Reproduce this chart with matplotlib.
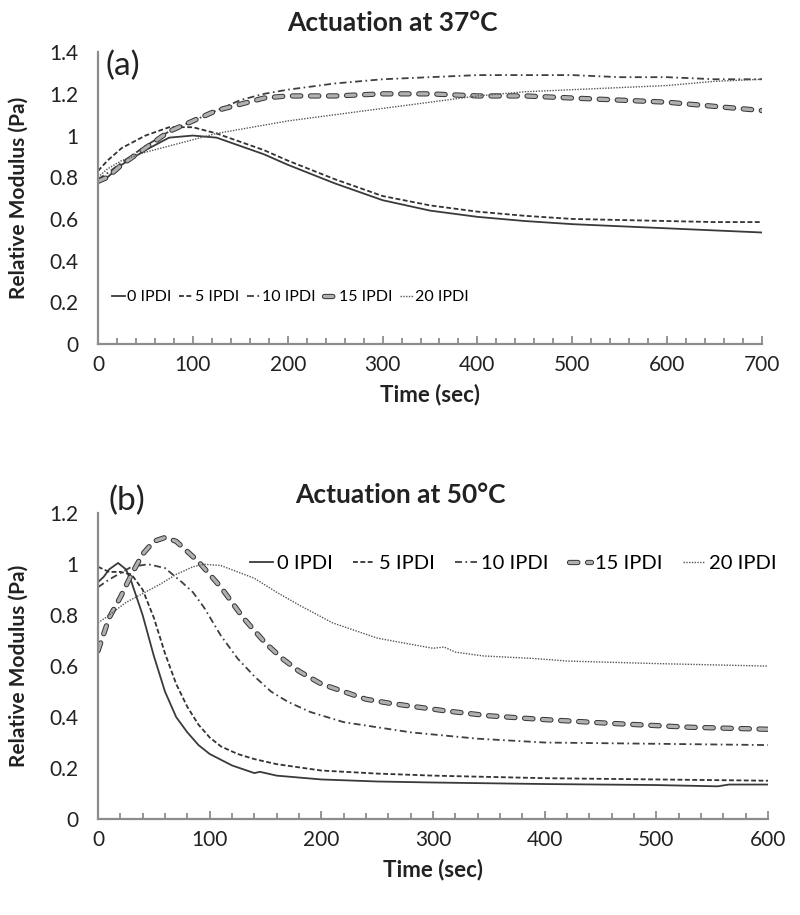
import matplotlib
matplotlib.use('Agg')
import matplotlib.pyplot as plt
import matplotlib.patheffects as pe
from matplotlib.ticker import MultipleLocator, FuncFormatter

plt.rcParams['font.family'] = ['Lato', 'DejaVu Sans']
plt.rcParams['lines.scale_dashes'] = False

labels = ['0 IPDI', '5 IPDI', '10 IPDI', '15 IPDI', '20 IPDI']

# (a) actuation at 37 C
t37 = [0, 10, 25, 50, 75, 100, 125, 150, 175, 200, 250, 300, 350, 400, 450, 500, 550, 600, 650, 700]
ipdi0_37 = [0.78, 0.80, 0.86, 0.93, 0.99, 1.00, 0.99, 0.95, 0.91, 0.86, 0.77, 0.69, 0.64, 0.61, 0.59, 0.575, 0.565, 0.555, 0.545, 0.535]
ipdi5_37 = [0.83, 0.88, 0.94, 1.00, 1.04, 1.04, 1.01, 0.97, 0.93, 0.88, 0.79, 0.71, 0.665, 0.635, 0.615, 0.60, 0.595, 0.59, 0.585, 0.585]
ipdi10_37 = [0.79, 0.82, 0.87, 0.95, 1.02, 1.07, 1.12, 1.17, 1.20, 1.22, 1.25, 1.27, 1.28, 1.29, 1.29, 1.29, 1.28, 1.28, 1.27, 1.27]
ipdi15_37 = [0.78, 0.80, 0.86, 0.94, 1.02, 1.07, 1.12, 1.15, 1.18, 1.19, 1.19, 1.20, 1.20, 1.19, 1.19, 1.18, 1.17, 1.16, 1.14, 1.12]
ipdi20_37 = [0.80, 0.84, 0.88, 0.92, 0.95, 0.98, 1.01, 1.03, 1.05, 1.07, 1.10, 1.13, 1.16, 1.19, 1.21, 1.22, 1.23, 1.24, 1.26, 1.27]

# (b) actuation at 50 C
t0_50 = [0, 5, 10, 18, 25, 30, 40, 50, 60, 70, 80, 90, 100, 120, 140, 145, 160, 200, 250, 300, 400, 500, 555, 565, 600]
ipdi0_50 = [0.93, 0.95, 0.98, 1.005, 0.98, 0.93, 0.80, 0.64, 0.50, 0.40, 0.34, 0.29, 0.255, 0.21, 0.18, 0.185, 0.17, 0.155, 0.147, 0.143, 0.137, 0.133, 0.128, 0.135, 0.135]
t5_50 = [0, 10, 20, 30, 40, 50, 60, 70, 80, 90, 100, 110, 125, 140, 160, 200, 250, 300, 400, 500, 600]
ipdi5_50 = [0.99, 0.97, 0.97, 0.96, 0.90, 0.79, 0.65, 0.53, 0.44, 0.37, 0.32, 0.285, 0.255, 0.235, 0.215, 0.19, 0.178, 0.17, 0.16, 0.155, 0.15]
t10_50 = [0, 10, 20, 30, 45, 60, 75, 85, 95, 110, 125, 140, 155, 170, 190, 220, 250, 280, 340, 400, 500, 600]
ipdi10_50 = [0.91, 0.94, 0.965, 0.99, 1.0, 0.985, 0.93, 0.89, 0.83, 0.72, 0.63, 0.56, 0.50, 0.46, 0.42, 0.38, 0.36, 0.34, 0.315, 0.30, 0.295, 0.29]
t15_50 = [0, 10, 20, 30, 40, 50, 60, 70, 80, 90, 100, 110, 120, 130, 140, 150, 165, 180, 200, 220, 240, 260, 285, 310, 350, 400, 460, 530, 600]
ipdi15_50 = [0.66, 0.79, 0.87, 0.96, 1.04, 1.09, 1.105, 1.09, 1.05, 1.01, 0.96, 0.91, 0.85, 0.79, 0.74, 0.69, 0.63, 0.58, 0.53, 0.50, 0.47, 0.455, 0.44, 0.425, 0.405, 0.39, 0.375, 0.36, 0.352]
t20_50 = [0, 10, 25, 40, 55, 70, 85, 95, 110, 125, 140, 160, 180, 210, 250, 300, 310, 320, 345, 390, 420, 500, 600]
ipdi20_50 = [0.77, 0.80, 0.85, 0.885, 0.92, 0.96, 0.99, 1.0, 0.995, 0.97, 0.945, 0.89, 0.84, 0.77, 0.71, 0.67, 0.675, 0.655, 0.64, 0.63, 0.62, 0.61, 0.60]

grey = '#8c8c8c'
ink = '#222222'


def draw(ax, series, xmax, ymax):
    (ta, a), (tb, b), (tc, c), (td, d), (te, e) = series
    ax.plot(ta, a, color='#3a3a3a', lw=1.3, label=labels[0])
    ax.plot(tb, b, color='#333333', lw=1.3, dashes=(3.5, 1.8), label=labels[1])
    ax.plot(tc, c, color='#404040', lw=1.3, dashes=(5, 2.5, 1.2, 2.5), label=labels[2])
    ax.plot(td, d, color='#b0b0b0', lw=2.4, dashes=(6, 7), dash_capstyle='round',
            path_effects=[pe.Stroke(linewidth=3.8, foreground='#333333'), pe.Normal()],
            label=labels[3])
    ax.plot(te, e, color='#555555', lw=1.0, dashes=(1, 1), label=labels[4])
    ax.set_xlim(0, xmax)
    ax.set_ylim(0, ymax)
    ax.xaxis.set_major_locator(MultipleLocator(100))
    ax.xaxis.set_minor_locator(MultipleLocator(20))
    ax.yaxis.set_major_locator(MultipleLocator(0.2))
    ax.yaxis.set_major_formatter(FuncFormatter(lambda v, p: f'{v:g}'))
    for s in ['top', 'right']:
        ax.spines[s].set_visible(False)
    for s in ['left', 'bottom']:
        ax.spines[s].set_color(grey)
        ax.spines[s].set_linewidth(1.6)
    ax.tick_params(axis='x', which='major', direction='in', length=6, width=1.3, color=grey,
                   labelsize=15, pad=8, labelcolor=ink)
    ax.tick_params(axis='x', which='minor', direction='in', length=4, width=1.3, color=grey)
    ax.tick_params(axis='y', length=0, labelsize=15, pad=14, labelcolor=ink)
    ax.set_xlabel('Time (sec)', fontsize=16, fontweight='bold', color=ink, labelpad=6)
    ax.set_ylabel('Relative Modulus (Pa)', fontsize=15, fontweight='bold', color=ink)


fig = plt.figure(figsize=(8, 9.15), dpi=100)
ax1 = fig.add_axes([0.1225, 0.624, 0.83, 0.319])
ax2 = fig.add_axes([0.1225, 0.105, 0.8375, 0.334])

draw(ax1, [(t37, ipdi0_37), (t37, ipdi5_37), (t37, ipdi10_37), (t37, ipdi15_37), (t37, ipdi20_37)],
     700, 1.4)
draw(ax2, [(t0_50, ipdi0_50), (t5_50, ipdi5_50), (t10_50, ipdi10_50), (t15_50, ipdi15_50), (t20_50, ipdi20_50)],
     600, 1.2)
ax1.yaxis.set_label_coords(-0.104, 0.5)
ax2.yaxis.set_label_coords(-0.103, 0.5)

ax1.legend(loc='center', bbox_to_anchor=(0.29, 0.16), ncol=5, frameon=False, fontsize=11.5,
           handlelength=0.8, handletextpad=0.15, columnspacing=0.5)
ax2.legend(loc='center', bbox_to_anchor=(0.62, 0.837), ncol=5, frameon=False, fontsize=14.5,
           handlelength=1.1, handletextpad=0.2, columnspacing=1.0)

ax1.text(0.012, 0.952, '(a)', transform=ax1.transAxes, fontsize=24, va='center', ha='left', color=ink)
ax2.text(0.016, 1.04, '(b)', transform=ax2.transAxes, fontsize=24, va='center', ha='left', color=ink)

fig.text(0.49, 0.975, 'Actuation at 37°C', fontsize=19, fontweight='bold', ha='center', va='center', color=ink)
fig.text(0.5, 0.459, 'Actuation at 50°C', fontsize=19, fontweight='bold', ha='center', va='center', color=ink)

fig.savefig('out.png', dpi=100)
